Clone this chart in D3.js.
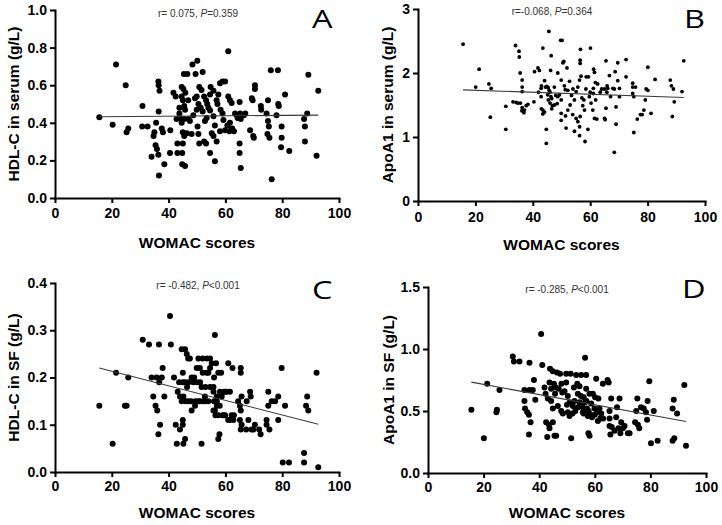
<!DOCTYPE html>
<html><head><meta charset="utf-8">
<script src="https://cdn.jsdelivr.net/npm/d3@7"></script>
<style>
html,body{margin:0;padding:0;background:#fff;}
svg{display:block;}
</style></head>
<body>
<svg id="chart" width="722" height="525"></svg>
<script>
// ---------- data ----------
const womacTicks = [0, 20, 40, 60, 80, 100];

const hdlSerumTicks = [0, 0.2, 0.4, 0.6, 0.8, 1.0];
const apoSerumTicks = [0, 1, 2, 3];
const hdlSFTicks = [0, 0.1, 0.2, 0.3, 0.4];
const apoSFTicks = [0, 0.5, 1.0, 1.5];

const panelLetters = ["A", "B", "C", "D"];
const yTitles = ["HDL-C in serum (g/L)", "ApoA1 in serum (g/L)", "HDL-C in SF (g/L)", "ApoA1 in SF (g/L)"];
const xTitle = "WOMAC scores";
const statR = ["r= 0.075, ", "r=-0.068, ", "r= -0.482, ", "r= -0.285, "];
const statP = ["=0.359", "=0.364", "<0.001", "<0.001"];

// fitted regression lines (endpoints)
const fitHdlSerum = [[15.6, 0.432], [92.7, 0.441]];
const fitApoSerum = [[15.7, 1.737], [92.6, 1.617]];
const fitHdlSF = [[15.6, 0.220], [92.7, 0.101]];
const fitApoSF = [[15.6, 0.733], [92.8, 0.415]];

// [WOMAC score, value]
const hdlSerum = [
[15.6,0.43],[20.3,0.39],[21.5,0.71],[24.9,0.60],[25.2,0.35],[25.8,0.37],[30.8,0.49],[30.7,0.38],[32.6,0.38],[34.0,0.22],[34.7,0.33],[35.0,0.35],[35.6,0.40],[36.4,0.62],[36.5,0.60],[36.8,0.57],[36.5,0.46],[35.4,0.28],[35.9,0.26],[36.4,0.23],[36.6,0.12],[37.6,0.37],[38.0,0.35],[38.5,0.18],[40.6,0.36],[40.5,0.24],
[41.7,0.56],[42.5,0.54],[44.6,0.59],[45.2,0.58],[45.9,0.56],[44.6,0.54],[45.0,0.52],[45.5,0.49],[45.8,0.47],[43.8,0.48],[42.8,0.42],[43.8,0.45],[44.5,0.42],[44.6,0.40],[45.4,0.42],[45.0,0.35],[45.5,0.33],[45.0,0.29],[44.8,0.24],[43.1,0.24],[44.8,0.18],[45.8,0.17],[45.4,0.66],[46.6,0.66],[47.0,0.42],[47.5,0.41],[48.1,0.34],[46.4,0.345],[43.1,0.29],
[48.4,0.71],[50.1,0.73],[49.5,0.66],[52.0,0.67],[49.3,0.53],[49.9,0.54],[50.8,0.59],[51.6,0.575],[50.5,0.50],[51.3,0.48],[52.0,0.46],[49.9,0.47],[50.2,0.38],[52.5,0.54],[53.2,0.52],[53.6,0.50],[54.0,0.48],[54.6,0.55],[54.6,0.465],[54.8,0.59],[55.8,0.57],[53.4,0.425],[52.8,0.41],[55.2,0.345],[55.8,0.33],[56.3,0.385],[50.5,0.34],[50.8,0.29],[52.5,0.30],[53.2,0.29],[54.6,0.24],[56.3,0.195],[56.9,0.30],[55.8,0.435],[48.7,0.44],[46.9,0.52],
[56.9,0.52],[57.5,0.55],[57.2,0.50],[58.1,0.61],[59.0,0.62],[59.9,0.62],[58.3,0.47],[59.0,0.45],[59.3,0.415],[59.9,0.36],[60.7,0.385],[61.4,0.355],[61.6,0.40],[62.4,0.37],[63.0,0.355],[61.0,0.54],[61.6,0.52],[62.2,0.505],[61.0,0.78],[58.1,0.355],
[63.4,0.45],[64.0,0.44],[64.3,0.425],
[65.0,0.51],[65.2,0.45],[65.4,0.42],[65.0,0.29],[65.0,0.24],[65.4,0.16],[66.5,0.44],[67.0,0.45],[68.7,0.36],[69.3,0.53],[69.6,0.52],[69.8,0.33],[70.0,0.32],[70.4,0.60],[70.4,0.58],[72.5,0.49],[72.6,0.47],[74.5,0.45],[75.0,0.52],[75.0,0.41],[75.3,0.38],[74.8,0.34],[75.5,0.32],[76.0,0.68],[76.3,0.10],[78.0,0.44],[78.5,0.68],[78.8,0.49],[78.6,0.50],[79.8,0.38],[79.8,0.32],[79.6,0.27],[81.0,0.55],[82.5,0.25],[87.7,0.42],[88.0,0.38],[88.0,0.30],[88.8,0.45],[89.2,0.655],[92.1,0.225],[92.7,0.57]
];

const apoSerum = [
[15.7,2.45],[20.1,1.78],[21.3,2.06],[24.7,1.83],[25.5,1.76],[25.2,1.31],[30.6,1.12],[30.6,1.48],[33.1,1.55],[34.0,2.43],[35.2,2.34],[35.3,2.25],[35.6,2.0],[36.3,1.89],[36.3,1.78],[36.3,1.71],[34.2,1.54],[34.8,1.53],[35.7,1.53],[36.3,1.46],[36.2,1.41],[36.9,1.38],[37.1,1.42],[37.7,1.49],[38.3,1.51],
[40.6,2.02],[41.8,2.08],[42.3,2.04],[40.4,1.55],[42.9,1.63],[42.9,1.76],[43.5,2.39],[44.1,1.88],[44.4,1.78],[43.5,1.42],[43.0,1.44],[44.1,1.39],[43.5,1.36],[44.7,1.12],[44.7,0.90],[45.6,2.65],[46.4,2.27],[46.2,2.04],
[44.9,1.79],[45.4,1.77],[45.7,1.73],[46.0,1.70],[45.2,1.66],[46.3,1.63],[45.4,1.58],[46.6,1.60],[46.0,1.53],[46.8,1.49],[46.6,1.44],[47.5,1.78],[48.0,1.65],
[48.7,2.0],[49.7,2.51],[50.2,2.51],[50.5,2.16],[50.8,2.18],[49.9,1.89],[49.3,1.66],[48.7,1.63],[49.9,1.58],[51.0,1.80],[51.3,1.74],[52.2,1.73],[49.9,1.37],[49.9,1.26],[51.4,1.33],[52.2,1.42],[51.6,1.14],[52.8,1.87],[51.9,2.08],
[53.9,1.35],[54.5,1.09],[55.1,1.29],[55.7,1.24],[56.3,1.16],[56.3,1.02],[56.5,1.32],[54.5,1.58],[55.1,1.71],[55.7,1.78],[56.3,1.89],[56.6,2.37],[56.5,2.20],[56.5,2.15],[56.8,1.95],[57.1,1.61],[57.8,1.58],[57.4,1.49],[58.0,1.42],[58.2,0.93],[59.2,1.12],[58.6,1.94],[59.4,1.94],[59.7,1.63],[60.1,2.39],[60.3,1.53],[60.9,1.42],[61.1,1.76],[61.2,2.06],[61.5,2.01],[61.8,1.85],[61.5,1.29],[62.3,1.28],[61.1,1.68],[61.9,1.58],[62.6,1.83],
[42.0,1.70],[43.0,1.80],[47.5,1.50],[48.5,1.52],[53.0,1.50],[53.5,1.65],[54.0,1.75],[58.5,1.75],[60.0,1.70],[63.5,1.70],[64.0,1.75],
[65.0,1.29],[65.2,1.27],[65.0,1.75],[65.5,2.19],[65.9,1.80],[65.5,1.45],[65.8,1.70],[66.1,1.76],[66.7,1.96],[67.1,1.63],[67.9,1.76],[68.4,1.75],[68.7,2.02],[69.0,1.47],[69.0,1.20],[68.4,0.76],[69.6,2.16],[69.6,1.88],[70.2,1.76],[70.2,1.63],[72.5,2.21],[72.5,1.94],[74.8,1.84],[74.8,1.78],[74.8,1.68],[75.2,1.63],[75.8,1.78],[75.2,1.07],[76.4,1.28],[77.5,1.35],[78.1,1.35],[78.7,1.42],[79.2,1.58],[79.5,1.75],[80.1,1.73],[80.1,2.09],[81.2,1.37],[82.6,1.90],[87.9,1.89],[88.3,1.80],[89.0,1.75],[88.6,1.32],[89.3,1.55],[92.0,1.71],[92.6,2.19]
];

const hdlSF = [
[15.6,0.14],[20.3,0.06],[21.5,0.21],[24.6,0.14],[25.2,0.14],[25.8,0.20],[30.9,0.28],[33.1,0.27],[34.0,0.20],[34.6,0.16],[35.4,0.14],[36.0,0.13],[36.6,0.27],[36.7,0.19],[37.6,0.20],[37.0,0.10],[36.4,0.08],[37.9,0.22],[38.5,0.16],[35.8,0.20],
[40.5,0.33],[40.8,0.27],[41.9,0.20],[42.5,0.10],[42.9,0.06],[43.2,0.17],[43.7,0.19],[44.0,0.09],[44.6,0.26],[45.0,0.21],[45.2,0.16],[45.0,0.11],[45.0,0.10],[45.2,0.06],[45.8,0.07],[44.0,0.16],[44.6,0.15],[45.8,0.26],[46.4,0.25],[45.8,0.19],[45.0,0.19],[46.9,0.24],[47.5,0.24],
[48.1,0.20],[48.7,0.19],[48.1,0.13],[49.3,0.14],[49.9,0.22],[50.5,0.24],[51.1,0.19],[51.6,0.18],[51.6,0.06],[52.2,0.15],[52.8,0.16],[53.4,0.21],[54.0,0.21],[54.6,0.24],[54.6,0.18],[54.0,0.15],[54.6,0.22],[55.2,0.23],[55.8,0.18],[55.8,0.17],[56.3,0.29],[56.7,0.23],[57.0,0.16],[57.0,0.14],[56.3,0.13],[57.5,0.21],[57.5,0.12],[57.0,0.15],[57.9,0.08],[57.5,0.07],[55.8,0.13],[58.1,0.17],[58.7,0.16],[59.0,0.12],[59.5,0.17],[59.9,0.12],[60.4,0.17],[61.0,0.23],[61.0,0.11],[61.6,0.17],[61.6,0.11],[62.2,0.12],[62.8,0.11],[62.5,0.22],
[46.0,0.15],[47.0,0.15],[48.0,0.15],[49.5,0.15],[50.5,0.15],[51.0,0.15],[53.0,0.15],[56.0,0.15],[46.5,0.18],[47.0,0.19],[49.0,0.20],[50.0,0.19],[52.0,0.21],[53.0,0.18],[53.5,0.24],[52.0,0.24],[51.0,0.22],[56.0,0.20],[58.5,0.21],[60.0,0.17],[63.0,0.12],[56.5,0.12],[58.0,0.14],[59.5,0.12],
[64.5,0.15],[65.1,0.14],[65.4,0.13],[65.1,0.11],[65.4,0.22],[65.4,0.21],[65.7,0.16],[65.7,0.10],[65.4,0.09],[67.3,0.09],[67.5,0.15],[68.1,0.11],[68.7,0.17],[68.9,0.16],[69.2,0.09],[69.8,0.09],[70.4,0.10],[71.9,0.09],[72.4,0.08],[74.5,0.11],[74.5,0.10],[75.1,0.14],[75.1,0.17],[75.5,0.09],[76.3,0.15],[77.5,0.15],[78.6,0.16],[78.6,0.11],[79.8,0.22],[80.2,0.02],[81.0,0.14],[82.4,0.02],[87.7,0.04],[87.7,0.02],[88.4,0.14],[88.8,0.16],[89.2,0.13],[92.1,0.21],[92.7,0.01]
];

const apoSF = [
[15.6,0.51],[20.1,0.28],[21.3,0.72],[24.6,0.49],[24.8,0.51],[25.7,0.67],[30.5,0.94],[30.9,0.90],[32.9,0.90],[34.7,0.67],[34.7,0.58],[34.9,0.52],[35.7,0.49],[36.3,0.47],[36.5,0.89],[36.5,0.67],[36.9,0.41],[36.3,0.31],[37.7,0.67],[38.1,0.75],[38.6,0.59],
[40.7,1.12],[41.1,0.87],[41.9,0.69],[42.3,0.64],[42.5,0.41],[42.9,0.29],[43.1,0.60],[43.5,0.39],[43.7,0.36],[43.9,0.84],[43.7,0.73],[44.3,0.68],[44.3,0.58],[44.9,0.82],[45.3,0.72],[44.9,0.52],[44.9,0.41],[45.5,0.30],[46.1,0.30],[45.7,0.64],[46.4,0.81],[46.7,0.54],[47.5,0.80],[47.9,0.50],[48.5,0.48],[48.3,0.65],[49.1,0.66],[49.7,0.80],[49.7,0.73],[50.3,0.49],[50.9,0.46],[50.3,0.62],[51.3,0.80],[51.5,0.28],[52.1,0.54],[52.5,0.69],[52.7,0.58],[53.3,0.79],[53.7,0.72],[53.9,0.64],[54.5,0.70],[54.5,0.57],[55.1,0.79],[55.1,0.54],[55.7,0.49],[56.0,0.48],[56.0,0.61],[56.5,0.93],[56.5,0.57],[56.9,0.79],[56.9,0.68],[57.2,0.52],[57.5,0.46],[57.7,0.32],[58.1,0.30],[58.1,0.64],[58.7,0.56],[59.3,0.64],[59.9,0.52],[60.1,0.61],[60.5,0.76],[60.8,0.49],[61.1,0.42],[61.3,0.60],[61.7,0.52],[62.3,0.48],[62.9,0.72],
[55.5,0.55],[56.0,0.52],[57.0,0.58],[55.0,0.62],[54.0,0.53],[53.0,0.50],[52.0,0.48],[57.8,0.50],[58.5,0.47],[59.0,0.45],[60.0,0.47],[63.0,0.44],[62.0,0.44],[47.0,0.68],[46.0,0.69],[48.0,0.72],[50.0,0.55],[51.0,0.57],
[64.6,0.75],[65.0,0.73],[65.3,0.50],[65.3,0.44],[65.3,0.38],[65.6,0.31],[65.9,0.60],[66.1,0.37],[67.1,0.34],[67.7,0.45],[68.0,0.53],[68.5,0.36],[68.9,0.60],[69.2,0.32],[69.5,0.41],[70.1,0.36],[70.7,0.38],[71.9,0.32],[72.5,0.32],[74.5,0.41],[74.9,0.50],[75.3,0.60],[75.5,0.39],[76.0,0.36],[76.6,0.53],[77.6,0.52],[78.4,0.49],[78.8,0.43],[79.0,0.58],[79.6,0.74],[80.2,0.24],[81.2,0.50],[82.6,0.26],[88.0,0.52],[88.4,0.59],[88.0,0.26],[88.6,0.28],[89.6,0.48],[92.2,0.71],[92.8,0.22]
];

// ---------- layout ----------
const panels = [
  {data: hdlSerum, fit: fitHdlSerum, ticks: hdlSerumTicks, fmt: ".1f", left: 55, right: 339, top: 10, bottom: 198, r: 3.0,
   xPad: 5, yTitleX: 13, xTitleY: 248, statX: 198, statY: 17, letterX: 312, letterY: 28},
  {data: apoSerum, fit: fitApoSerum, ticks: apoSerumTicks, fmt: "d", left: 418, right: 705, top: 9, bottom: 201, r: 1.9,
   xPad: 6, yTitleX: 387, xTitleY: 250, statX: 552, statY: 15, letterX: 684, letterY: 28},
  {data: hdlSF, fit: fitHdlSF, ticks: hdlSFTicks, fmt: ".1f", left: 55, right: 339, top: 283, bottom: 472, r: 3.0,
   xPad: 4, yTitleX: 13, xTitleY: 518, statX: 198, statY: 289, letterX: 312, letterY: 299},
  {data: apoSF, fit: fitApoSF, ticks: apoSFTicks, fmt: ".1f", left: 428, right: 706, top: 287, bottom: 473, r: 3.0,
   xPad: 4, yTitleX: 388, xTitleY: 518, statX: 567, statY: 293, letterX: 682, letterY: 298}
];

const svg = d3.select("#chart");
const FONT = "'Liberation Sans', Arial, Helvetica, sans-serif";

panels.forEach((p, i) => {
  const x = d3.scaleLinear().domain([0, 100]).range([p.left, p.right]);
  const y = d3.scaleLinear().domain([0, d3.max(p.ticks)]).range([p.bottom, p.top]);
  const g = svg.append("g");

  // points
  g.append("g").selectAll("circle").data(p.data).join("circle")
    .attr("cx", d => x(d[0])).attr("cy", d => y(d[1])).attr("r", p.r)
    .attr("fill", "#000");

  // regression line
  g.append("path").datum(p.fit)
    .attr("d", d3.line().x(d => x(d[0])).y(d => y(d[1])))
    .attr("fill", "none").attr("stroke", "#3a3a3a").attr("stroke-width", 1.1);

  // axes
  const xa = g.append("g").attr("transform", `translate(0,${p.bottom})`)
    .call(d3.axisBottom(x).tickValues(womacTicks).tickSize(5).tickSizeOuter(0).tickPadding(p.xPad));
  const ya = g.append("g").attr("transform", `translate(${p.left},0)`)
    .call(d3.axisLeft(y).tickValues(p.ticks).tickFormat(d3.format(p.fmt)).tickSize(5).tickSizeOuter(0).tickPadding(3));
  [xa, ya].forEach(a => {
    a.select(".domain").attr("stroke", "#000").attr("stroke-width", 2).attr("stroke-linecap", "square");
    a.selectAll(".tick line").attr("stroke", "#000").attr("stroke-width", 2);
    a.selectAll(".tick text").attr("fill", "#000").style("font-family", FONT)
      .style("font-size", "14px").style("font-weight", "bold");
  });

  // titles
  g.append("text").attr("x", (p.left + p.right) / 2).attr("y", p.xTitleY)
    .attr("text-anchor", "middle").style("font-family", FONT).style("font-size", "15.5px")
    .style("font-weight", "bold").text(xTitle);
  g.append("text").attr("transform", `translate(${p.yTitleX},${(p.top + p.bottom) / 2}) rotate(-90)`)
    .attr("text-anchor", "middle").attr("dy", "0.36em").style("font-family", FONT).style("font-size", "15.5px")
    .style("font-weight", "bold").text(yTitles[i]);

  // stats
  const st = g.append("text").attr("x", p.statX).attr("y", p.statY).attr("text-anchor", "middle")
    .style("font-family", FONT).style("font-size", "10px").attr("fill", "#333");
  st.append("tspan").text(statR[i]);
  st.append("tspan").style("font-style", "italic").text("P");
  st.append("tspan").text(statP[i]);

  // panel letter
  g.append("text").attr("transform", `translate(${p.letterX},${p.letterY}) scale(1.25,1)`)
    .style("font-family", "'Open Sans', sans-serif").style("font-size", "26px").attr("fill", "#000").text(panelLetters[i]);
});
</script>
</body></html>
